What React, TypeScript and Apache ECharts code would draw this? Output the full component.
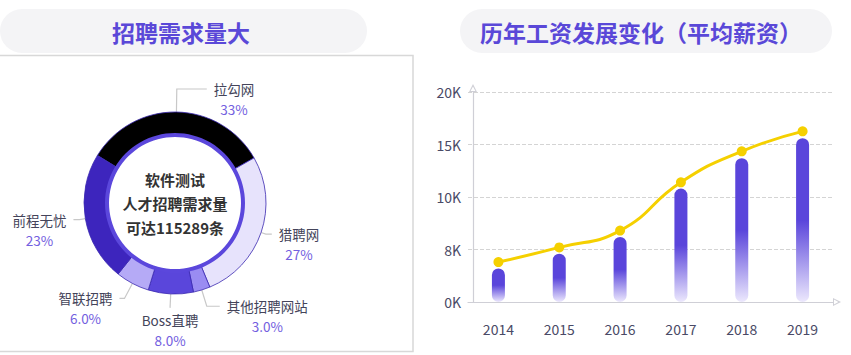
import React, { useEffect, useRef } from "react";
import * as echarts from "echarts";

const titles = ["招聘需求量大", "历年工资发展变化（平均薪资）"];

const years = ["2014", "2015", "2016", "2017", "2018", "2019"];
const barValues = [3.2, 4.6, 6.2, 10.8, 13.7, 15.6];
const lineValues = [3.8, 5.2, 6.8, 11.4, 14.35, 16.25];
const yTickLabels = ["0K", "8K", "10K", "15K", "20K"];

const sourceNames = ["拉勾网", "猎聘网", "其他招聘网站", "Boss直聘", "智联招聘", "前程无忧"];
const sourceShares = [33, 27, 3, 8, 6, 23];
const sourceColors = ["#000000", "#e7e3fc", "#9a8cf2", "#5a46db", "#b5aaf6", "#3d25bd"];
const centerLines = ["软件测试", "人才招聘需求量", "可达115289条"];

// leader line lengths per slice (style only)
const leaderLens: [number, number][] = [
  [23, 30],
  [5, 6],
  [17, 13],
  [14, 0],
  [17, 5],
  [6, 6],
];

const FONT = "'Noto Sans CJK SC', 'Noto Sans', sans-serif";
const fmtPct = (v: number) => (v >= 10 ? `${v}%` : `${v.toFixed(1)}%`);

const hollowTri = "path://M5,0 L10,10 L0,10 Z M5,3.2 L2,8.8 L8,8.8 Z";

export default function App() {
  const ref = useRef<HTMLDivElement>(null);
  useEffect(() => {
    if (!ref.current) return;
    const chart = echarts.init(ref.current, null, { renderer: "svg" });
    const option: any = {
      animation: false,
      textStyle: { fontFamily: FONT },
      graphic: [
        {
          type: "rect",
          shape: { x: 0, y: 9, width: 367, height: 44, r: 22 },
          style: { fill: "#f4f4f6" },
          z: 0,
        },
        {
          type: "rect",
          shape: { x: 460, y: 9, width: 372, height: 44, r: 22 },
          style: { fill: "#f4f4f6" },
          z: 0,
        },
        {
          type: "text",
          x: 181,
          y: 32,
          style: {
            text: titles[0],
            fontSize: 23,
            fontWeight: "bold",
            fill: "#5a48d8",
            fontFamily: FONT,
            align: "center",
            verticalAlign: "middle",
          },
        },
        {
          type: "text",
          x: 641,
          y: 32,
          style: {
            text: titles[1],
            fontSize: 23,
            fontWeight: "bold",
            fill: "#5a48d8",
            fontFamily: FONT,
            align: "center",
            verticalAlign: "middle",
          },
        },
        {
          type: "rect",
          shape: { x: -2, y: 55.5, width: 415, height: 296 },
          style: { fill: "none", stroke: "#d8d8d8", lineWidth: 1.5 },
        },
        {
          type: "ring",
          shape: { cx: 175, cy: 203, r: 70, r0: 66 },
          style: { fill: "#5b47dc" },
          z: 5,
        },
        {
          type: "text",
          x: 175,
          y: 203,
          z: 6,
          style: {
            text: centerLines.join("\n"),
            fontSize: 15,
            fontWeight: "bold",
            lineHeight: 24,
            fill: "#333333",
            fontFamily: FONT,
            align: "center",
            verticalAlign: "middle",
          },
        },
      ],
      grid: { left: 468, right: 18, top: 92, bottom: 53 },
      xAxis: {
        type: "category",
        data: years,
        axisLine: {
          lineStyle: { color: "#cfcfd6", width: 1.2 },
          symbol: ["none", hollowTri],
          symbolSize: [10, 8],
          symbolOffset: [0, 4],
        },
        axisTick: { inside: true, length: 8, lineStyle: { color: "#cfcfd6" } },
        axisLabel: { color: "#4a4a66", fontSize: 14, margin: 20, fontFamily: FONT },
      },
      yAxis: {
        type: "value",
        min: 0,
        max: 20,
        interval: 5,
        offset: -5,
        axisLine: {
          show: true,
          lineStyle: { color: "#cfcfd6", width: 1.2 },
          symbol: ["none", hollowTri],
          symbolSize: [10, 8],
          symbolOffset: [0, 4],
        },
        axisTick: { show: false },
        axisLabel: {
          color: "#4a4a66",
          fontSize: 14,
          margin: 12,
          fontFamily: FONT,
          formatter: (v: number) => yTickLabels[Math.round(v / 5)],
        },
        splitLine: { lineStyle: { color: "#d4d4d4", type: "dashed" } },
      },
      series: [
        {
          type: "bar",
          data: barValues,
          barWidth: 13,
          itemStyle: {
            borderRadius: 7,
            color: new echarts.graphic.LinearGradient(0, 0, 0, 1, [
              { offset: 0, color: "#5a45db" },
              { offset: 0.5, color: "#5a45db" },
              { offset: 1, color: "#ece8fd" },
            ]),
          },
          z: 2,
        },
        {
          type: "line",
          data: lineValues,
          smooth: true,
          symbol: "circle",
          symbolSize: 10,
          lineStyle: { color: "#f5d000", width: 3 },
          itemStyle: { color: "#f5d000" },
          z: 3,
        },
        {
          type: "pie",
          center: [175, 203],
          radius: [68, 91],
          startAngle: 148.5,
          clockwise: true,
          avoidLabelOverlap: false,
          data: sourceNames.map((n, i) => ({
            name: n,
            value: sourceShares[i],
            itemStyle: { color: sourceColors[i] },
            labelLine: { length: leaderLens[i][0], length2: leaderLens[i][1] },
          })),
          itemStyle: { borderColor: "#3a28b0", borderWidth: 0.8 },
          label: {
            show: true,
            position: "outside",
            bleedMargin: 0,
            formatter: (p: any) => `{n|${p.name}}\n{p|${fmtPct(p.value)}}`,
            rich: {
              n: { fontSize: 13.5, color: "#44445a", lineHeight: 20, fontFamily: FONT },
              p: { fontSize: 13.5, color: "#7360e0", lineHeight: 20, fontFamily: FONT },
            },
          },
          labelLine: {
            show: true,
            lineStyle: { color: "#c8c8c8", width: 1.2 },
          },
          labelLayout: (params: any) => {
            const pts = params.labelLinePoints;
            const r = params.labelRect;
            if (!pts || pts.length < 3) return {};
            const end = pts[2];
            const prev = pts[1];
            const dx = end[0] - prev[0];
            const gap = 7;
            if (Math.abs(dx) < 0.5) {
              // vertical leader: label below
              return {
                x: end[0],
                y: end[1] + 2,
                align: "center",
                verticalAlign: "top",
                labelLinePoints: pts,
              };
            }
            const right = dx > 0;
            return {
              x: right ? end[0] + gap + r.width / 2 : end[0] - gap - r.width / 2,
              y: end[1] - 10,
              align: "center",
              verticalAlign: "top",
              labelLinePoints: pts,
            };
          },
        },
      ],
    };
    chart.setOption(option);
    return () => chart.dispose();
  }, []);
  return (
    <div
      ref={ref}
      style={{ position: "fixed", left: 0, top: 0, width: 851, height: 355, background: "#fff" }}
    />
  );
}
